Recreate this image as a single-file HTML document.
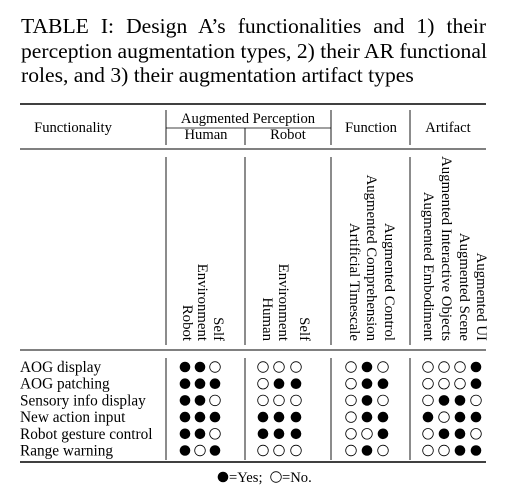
<!DOCTYPE html>
<html><head><meta charset="utf-8"><style>
html,body{margin:0;padding:0;background:#fff}
svg{display:block}
svg text{font-family:"Liberation Serif","Times New Roman",serif}
</style></head><body>
<svg id="t" width="521" height="488" viewBox="0 0 521 488">
<g font-size="21.6" fill="#000">
<text class="just" x="21" y="33">TABLE I: Design A’s functionalities and 1) their</text>
<text class="just" x="21" y="58">perception augmentation types, 2) their AR functional</text>
<text x="21" y="82">roles, and 3) their augmentation artifact types</text>
</g>
<g stroke="#000">
<line x1="20" x2="486" y1="104" y2="104" stroke-width="1.6"/>
<line x1="20" x2="486" y1="149" y2="149" stroke-width="0.9"/>
<line x1="20" x2="486" y1="350" y2="350" stroke-width="0.9"/>
<line x1="20" x2="486" y1="462" y2="462" stroke-width="1.6"/>
<line x1="166" x2="331" y1="128" y2="128" stroke-width="0.8"/>
<g stroke-width="0.9">
<line x1="166" x2="166" y1="110" y2="145"/><line x1="245" x2="245" y1="128" y2="145"/>
<line x1="331" x2="331" y1="110" y2="145"/><line x1="410" x2="410" y1="110" y2="145"/>
<line x1="166" x2="166" y1="157" y2="345"/><line x1="245" x2="245" y1="157" y2="345"/>
<line x1="331" x2="331" y1="157" y2="345"/><line x1="410" x2="410" y1="157" y2="345"/>
<line x1="166" x2="166" y1="358" y2="460"/><line x1="245" x2="245" y1="358" y2="460"/>
<line x1="331" x2="331" y1="358" y2="460"/><line x1="410" x2="410" y1="358" y2="460"/>
</g></g>
<g font-size="14.6" text-anchor="middle">
<text x="73" y="132">Functionality</text>
<text x="248" y="123">Augmented Perception</text>
<text x="206" y="139">Human</text>
<text x="288" y="139">Robot</text>
<text x="371" y="132">Function</text>
<text x="448" y="132">Artifact</text>
</g>
<g id="sub" font-size="14.8" text-anchor="end"></g>
<g id="body" font-size="15.3"></g>
<g font-size="14.6">
<circle cx="223" cy="477" r="5.3" fill="#000"/>
<text x="229" y="482">=Yes;</text>
<circle cx="276" cy="477" r="5.3" fill="none" stroke="#000" stroke-width="0.8"/>
<text x="282" y="482">=No.</text>
</g>
</svg>
<script>
const rows = ["AOG display","AOG patching","Sensory info display","New action input","Robot gesture control","Range warning"];
const humanVals = [[1,1,0],[1,1,1],[1,1,0],[1,1,1],[1,1,0],[1,0,1]];
const robotVals = [[0,0,0],[0,1,1],[0,0,0],[1,1,1],[1,1,1],[0,0,0]];
const functionVals = [[0,1,0],[0,1,1],[0,1,0],[0,1,1],[0,0,1],[0,1,0]];
const artifactVals = [[0,0,0,1],[0,0,0,1],[0,1,1,0],[1,0,1,1],[0,1,1,0],[0,0,1,1]];
const subLabels = [
  ["Self","Environment","Robot"],
  ["Self","Environment","Human"],
  ["Augmented Control","Augmented Comprehension","Artificial Timescale"],
  ["Augmented UI","Augmented Scene","Augmented Interactive Objects","Augmented Embodiment"]
];
const NS="http://www.w3.org/2000/svg";
const groups=[{v:humanVals,x:[185,200,215]},{v:robotVals,x:[263,279,296]},{v:functionVals,x:[351,367,383]},{v:artifactVals,x:[428,444,460,476]}];
const subX=[[219,203,188],[305,284,268],[390,372,355],[482,465,447,429]];
const rowY=r=>367+r*16.7;
const sub=document.getElementById('sub'), body=document.getElementById('body');
document.querySelectorAll('.just').forEach(t=>{
  const w=t.getComputedTextLength();
  const gaps=t.textContent.split(' ').length-1;
  if(w<465&&gaps>0) t.setAttribute('word-spacing',((465-w)/gaps).toFixed(2));
});
subLabels.forEach((g,gi)=>g.forEach((lab,i)=>{
  const t=document.createElementNS(NS,'text');
  const x=subX[gi][i]-5, y=341;
  t.setAttribute('transform',`translate(${x},${y}) rotate(90)`);
  t.setAttribute('x',0);t.setAttribute('y',0);
  t.textContent=lab;
  
  
  sub.appendChild(t);
}));
rows.forEach((name,r)=>{
  const t=document.createElementNS(NS,'text');
  t.setAttribute('x',20);t.setAttribute('y',rowY(r)+5);
  t.textContent=name;
  
  
  body.appendChild(t);
  groups.forEach(g=>g.v[r].forEach((val,i)=>{
    const c=document.createElementNS(NS,'circle');
    c.setAttribute('cx',g.x[i]);c.setAttribute('cy',rowY(r));c.setAttribute('r',5.3);
    if(val){c.setAttribute('fill','#000');}else{c.setAttribute('fill','none');c.setAttribute('stroke','#000');c.setAttribute('stroke-width','0.8');}
    
    
    body.appendChild(c);
  }));
});
</script>
</body></html>
